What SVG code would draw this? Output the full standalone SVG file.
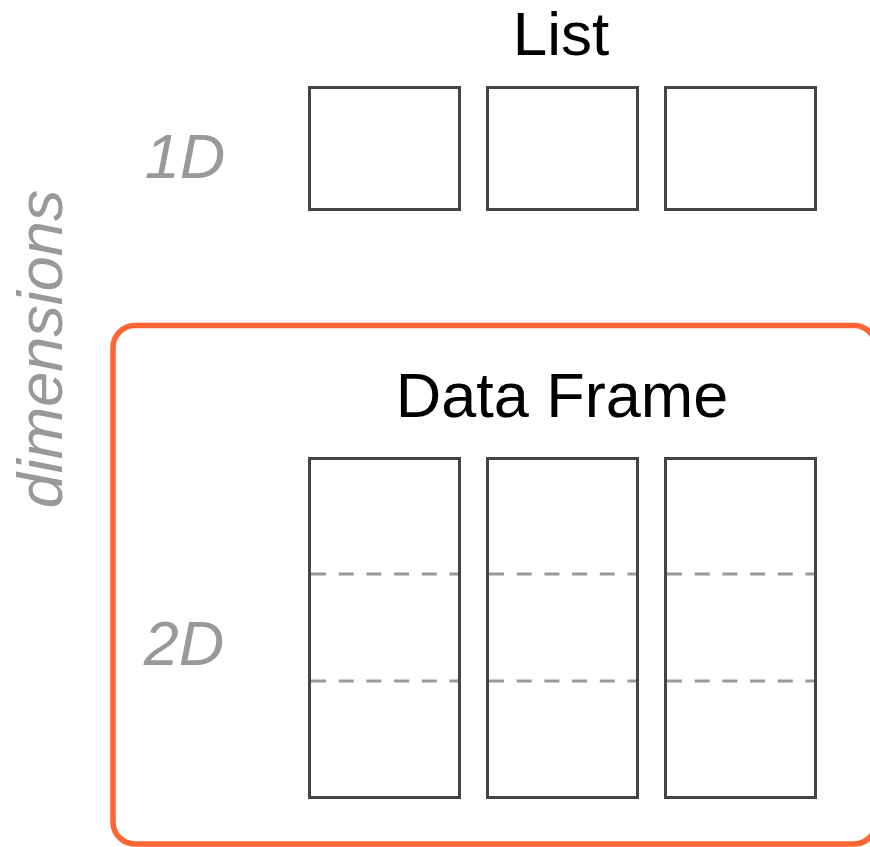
<svg xmlns="http://www.w3.org/2000/svg" width="870" height="847" viewBox="0 0 870 847">
<style>
.cell{fill:none;stroke:#444;stroke-width:3}
.dash{stroke:#999;stroke-width:3.2;stroke-dasharray:15 12.7;fill:none}
.title{font-family:"Liberation Sans",Arial,sans-serif;font-size:62px;fill:#000;text-anchor:middle}
.dim{font-family:"Liberation Sans",Arial,sans-serif;font-size:63px;font-style:italic;fill:#999;text-anchor:middle}
</style>
<rect width="870" height="847" fill="#fff"/>
<g id="frame-highlight">
<rect x="113" y="325.5" width="763" height="518.5" rx="22" ry="22" fill="none" stroke="#FF6633" stroke-width="5.5"/>
</g>
<g id="axis-label">
<text class="dim" transform="translate(62,349) rotate(-90)" x="0" y="0">dimensions</text>
<text class="dim" x="185" y="178">1D</text>
<text class="dim" x="184" y="665">2D</text>
</g>
<g id="list">
<text class="title" x="561" y="55">List</text>
<rect class="cell" x="309.5" y="87.5" width="150" height="122"/>
<rect class="cell" x="487.5" y="87.5" width="150" height="122"/>
<rect class="cell" x="665.5" y="87.5" width="150" height="122"/>
</g>
<g id="data-frame">
<text class="title" x="562" y="417" style="font-size:63px">Data Frame</text>
<rect class="cell" x="309.5" y="458.5" width="150" height="339"/>
<rect class="cell" x="487.5" y="458.5" width="150" height="339"/>
<rect class="cell" x="665.5" y="458.5" width="150" height="339"/>
<line class="dash" x1="311" y1="574" x2="458" y2="574"/>
<line class="dash" x1="489" y1="574" x2="636" y2="574"/>
<line class="dash" x1="667" y1="574" x2="814" y2="574"/>
<line class="dash" x1="311" y1="681" x2="458" y2="681"/>
<line class="dash" x1="489" y1="681" x2="636" y2="681"/>
<line class="dash" x1="667" y1="681" x2="814" y2="681"/>
</g>
<g id="connectors"/>
</svg>
